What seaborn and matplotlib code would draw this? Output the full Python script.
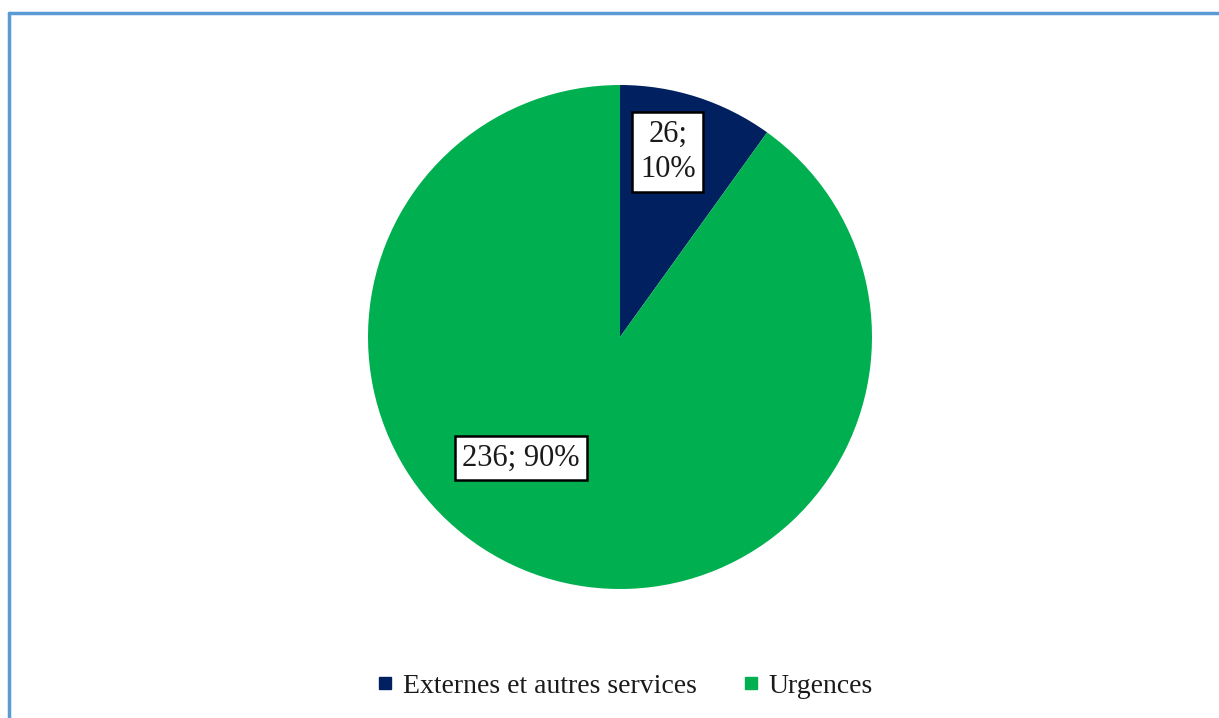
import matplotlib
matplotlib.use("Agg")
import matplotlib.pyplot as plt
import seaborn as sns
from matplotlib.lines import Line2D
import numpy as np

categories = ["Externes et autres services", "Urgences"]
values = [26, 236]
pct_labels = ["26;\n10%", "236; 90%"]
colors = ["#002060", "#00B050"]

sns.set_theme(style="white")
plt.rcParams['font.family'] = ['Liberation Serif', 'DejaVu Serif']

W, H = 1219, 718
fig = plt.figure(figsize=(W / 100, H / 100), dpi=100)
fig.patch.set_facecolor("white")
ax = fig.add_axes([0, 0, 1, 1])
ax.set_xlim(0, W)
ax.set_ylim(0, H)
ax.set_aspect("equal")
ax.axis("off")

cx, cy, r = 620, H - 337, 252
wedges, _ = ax.pie(values, colors=colors, startangle=90, counterclock=False,
                   center=(cx, cy), radius=r, frame=True,
                   wedgeprops=dict(linewidth=0))
ax.set_xlim(0, W)
ax.set_ylim(0, H)
ax.axis("off")

# label positions (relative to pie centre, as fraction of radius)
label_pos = [(0.19, 0.734), (-0.393, -0.480)]
for (fx, fy), txt in zip(label_pos, pct_labels):
    ax.text(cx + fx * r, cy + fy * r, txt, ha="center", va="center",
            fontsize=22, color="#1a1a1a", linespacing=1.3,
            bbox=dict(boxstyle="square,pad=0.25", fc="white", ec="black", lw=1.8))

handles = [Line2D([], [], marker="s", linestyle="none", markersize=9,
                  markerfacecolor=c, markeredgecolor=c) for c in colors]
fig.legend(handles, categories, loc="center", bbox_to_anchor=(624 / W, 1 - 686 / H),
           ncol=2, frameon=False, fontsize=20, handletextpad=0.3,
           columnspacing=1.6, handlelength=0.7, labelcolor="#1a1a1a")

# frame lines (top and left visible)
fig.add_artist(Line2D([9 / W, 1], [1 - 13 / H, 1 - 13 / H], color="#5B9BD5", lw=2.5,
                      transform=fig.transFigure))
fig.add_artist(Line2D([9 / W, 9 / W], [0, 1 - 13 / H], color="#5B9BD5", lw=2.5,
                      transform=fig.transFigure))

fig.savefig("out.png", dpi=100, facecolor="white")
